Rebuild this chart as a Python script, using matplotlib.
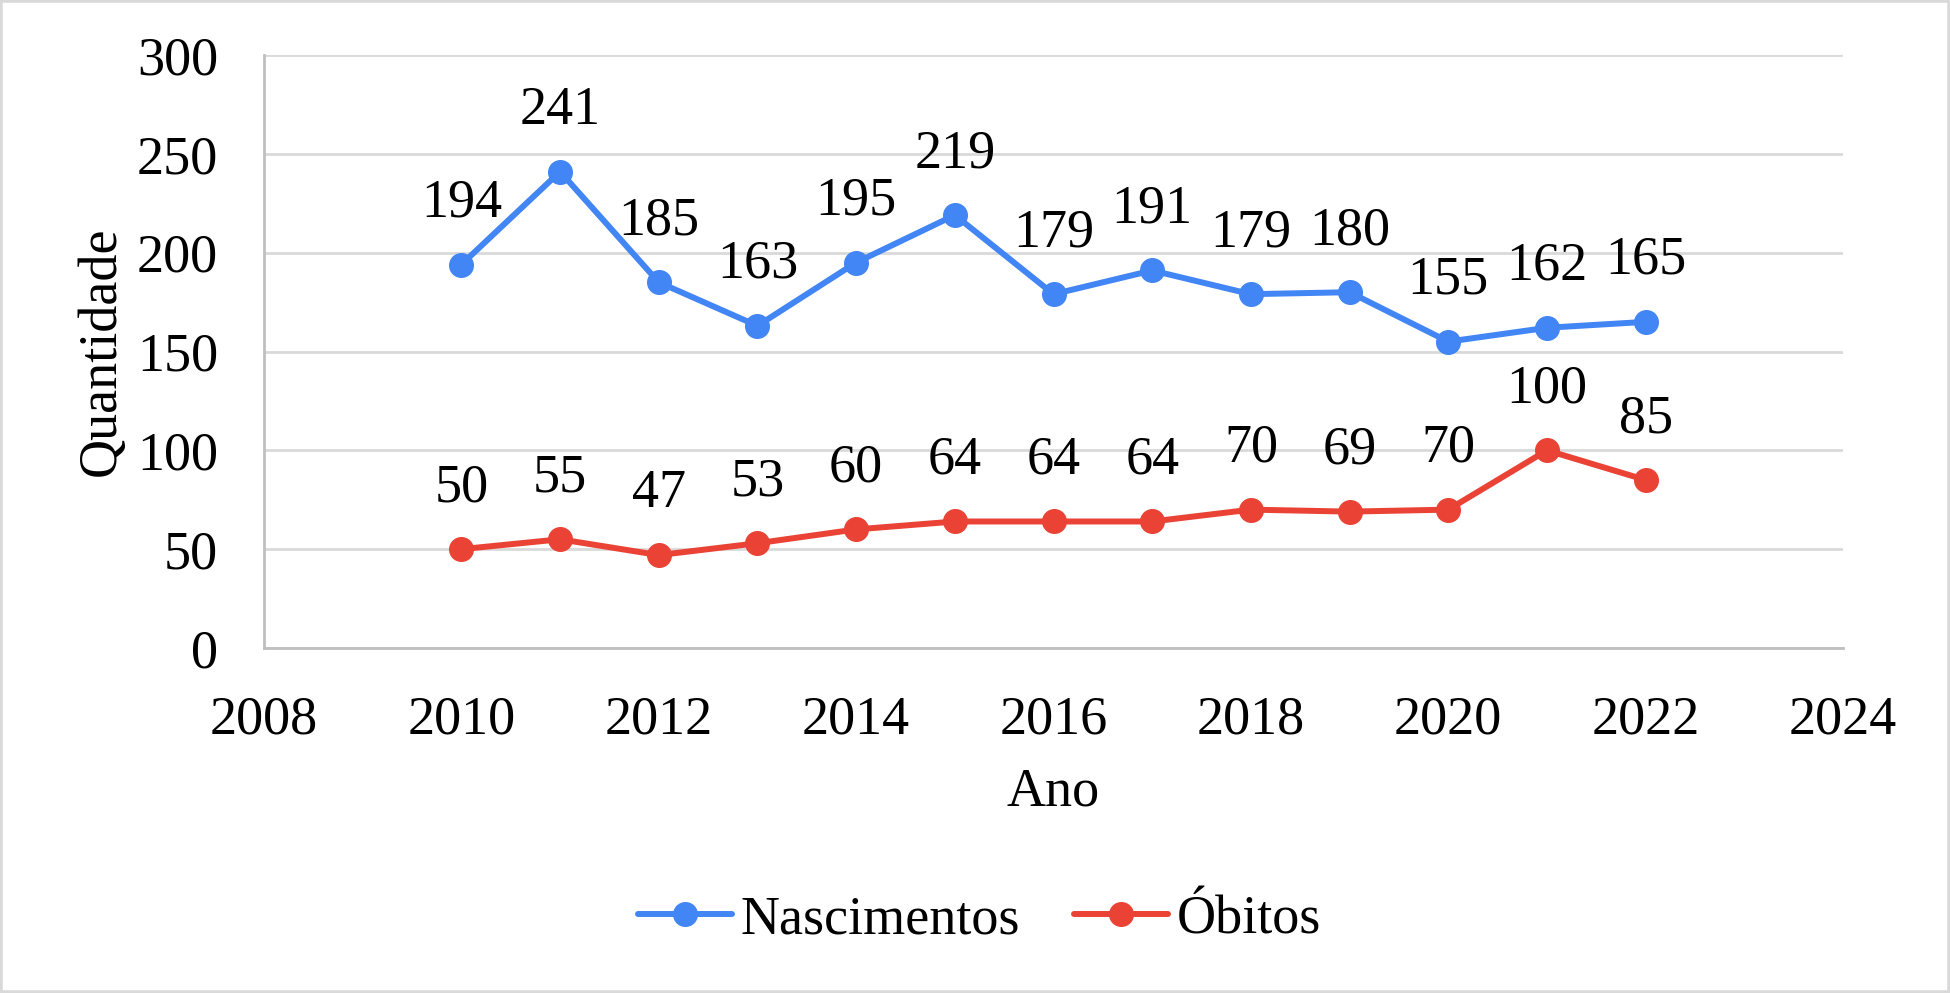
import matplotlib
matplotlib.use("Agg")
import matplotlib.pyplot as plt
from matplotlib.patches import Rectangle

plt.rcParams['font.family'] = ['Liberation Serif', 'DejaVu Serif']

# data
anos = [2010, 2011, 2012, 2013, 2014, 2015, 2016, 2017, 2018, 2019, 2020, 2021, 2022]
nascimentos = [194, 241, 185, 163, 195, 219, 179, 191, 179, 180, 155, 162, 165]
obitos = [50, 55, 47, 53, 60, 64, 64, 64, 70, 69, 70, 100, 85]
x_ticks = [2008, 2010, 2012, 2014, 2016, 2018, 2020, 2022, 2024]
y_ticks = [0, 50, 100, 150, 200, 250, 300]

AZUL = '#4285F4'
VERMELHO = '#EA4335'
FS = 39

fig = plt.figure(figsize=(19.5, 9.93), dpi=100)
ax = fig.add_axes([264 / 1950, 1 - 648 / 993, (1843 - 264) / 1950, (648 - 55) / 993])

series = [('Nascimentos', nascimentos, AZUL), ('Óbitos', obitos, VERMELHO)]
for nome, valores, cor in series:
    ax.plot(anos, valores, color=cor, lw=4.3, marker='o', ms=17,
            solid_capstyle='round', solid_joinstyle='round', label=nome, zorder=3)
    for x, v in zip(anos, valores):
        ax.annotate(str(v), (x, v), xytext=(0, 44), textcoords='offset points',
                    ha='center', va='center', fontsize=FS, color='black', zorder=4)

ax.set_xlim(2008, 2024)
ax.set_ylim(0, 300)
ax.set_xticks(x_ticks)
ax.set_yticks(y_ticks)
ax.tick_params(axis='both', length=0, labelsize=FS, colors='black')
ax.tick_params(axis='x', pad=34)
ax.tick_params(axis='y', pad=33)

ax.grid(axis='y', color='#d9d9d9', lw=2, zorder=0)
ax.set_axisbelow(True)
for s in ['top', 'right']:
    ax.spines[s].set_visible(False)
for s in ['left', 'bottom']:
    ax.spines[s].set_color('#bfbfbf')
    ax.spines[s].set_linewidth(2)

ax.set_ylabel('Quantidade', fontsize=FS, va='center')
ax.yaxis.set_label_coords(-0.1026, 0.5)
ax.set_xlabel('Ano', fontsize=FS, va='center')
ax.xaxis.set_label_coords(0.5, -0.2428)

fig.legend(loc='center', bbox_to_anchor=(979.5 / 1950, 1 - 920 / 993), ncol=2,
           frameon=False, fontsize=FS, handlelength=1.74, handletextpad=0.15,
           columnspacing=1.0, borderpad=0)

# light border around the chart area
fig.patches.append(Rectangle((0, 0), 1, 1, transform=fig.transFigure, fill=False,
                             edgecolor='#d9d9d9', lw=4))

fig.savefig('out.png', dpi=100, facecolor='white')
